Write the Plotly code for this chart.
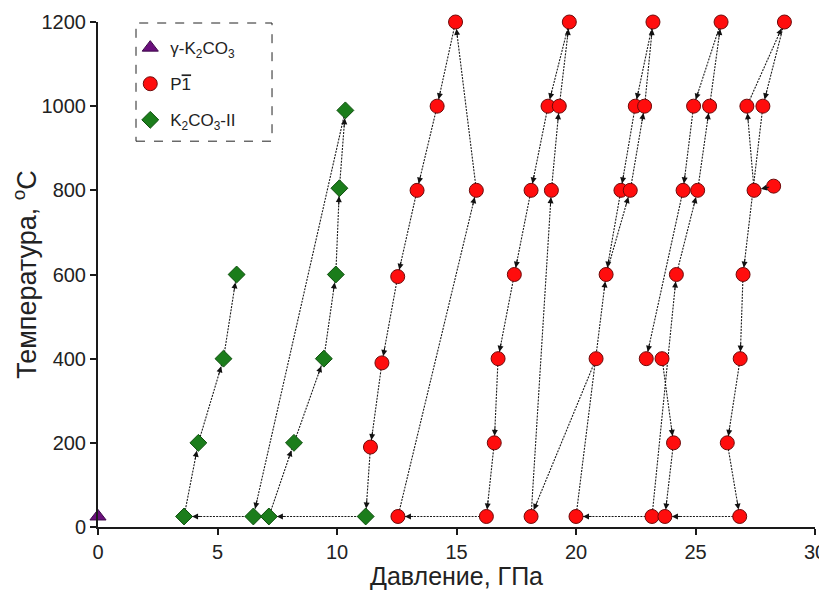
import math
import plotly.graph_objects as go

# ---------------- data ----------------
# gamma-K2CO3
gamma_P = [0.0]
gamma_T = [25]

# K2CO3-II  (green diamonds)
green_P = [3.6, 4.2, 5.25, 5.8, 6.5, 7.15, 8.2, 9.45, 9.95, 10.1, 10.35, 11.2]
green_T = [25, 200, 400, 600, 25, 25, 200, 400, 600, 805, 990, 25]

# P-1 phase (red circles)
red_P = [12.55, 16.25, 18.12, 20.0, 23.18, 23.72, 26.85,
         11.4, 16.58, 24.08, 26.33,
         11.88, 16.74, 20.84, 22.94, 23.6, 26.87,
         12.54, 17.42, 21.26, 24.2, 26.99,
         13.35, 15.83, 18.12, 18.97, 21.88, 22.27, 24.48, 25.09, 27.45, 28.27,
         14.19, 18.83, 19.3, 22.48, 22.87, 24.92, 25.59, 27.15, 27.82,
         14.96, 19.72, 23.22, 26.07, 28.72]
red_T = [25, 25, 25, 25, 25, 25, 25,
         190, 200, 200, 200,
         390, 400, 400, 400, 400, 400,
         595, 600, 600, 600, 600,
         800, 800, 800, 800, 800, 800, 800, 800, 800, 810,
         1000, 1000, 1000, 1000, 1000, 1000, 1000, 1000, 1000,
         1200, 1200, 1200, 1200, 1200]

# arrows: (from, to) ; 'g' = green index, 'r' = red index
arrows = [
    ("r7", "g11"), ("g11", "g5"), ("g5", "g6"), ("g6", "g7"), ("g7", "g8"),
    ("g8", "g9"), ("g9", "g10"), ("g10", "g4"), ("g4", "g0"), ("g0", "g1"),
    ("g1", "g2"), ("g2", "g3"),
    ("r11", "r7"), ("r17", "r11"), ("r22", "r17"), ("r32", "r22"), ("r41", "r32"),
    ("r23", "r41"), ("r0", "r23"), ("r1", "r0"), ("r8", "r1"), ("r12", "r8"),
    ("r18", "r12"), ("r24", "r18"), ("r33", "r24"), ("r42", "r33"), ("r34", "r42"),
    ("r25", "r34"), ("r2", "r25"), ("r13", "r2"), ("r3", "r19"), ("r26", "r19"),
    ("r19", "r27"), ("r27", "r36"), ("r36", "r43"), ("r43", "r35"), ("r35", "r26"),
    ("r4", "r3"), ("r4", "r20"), ("r20", "r29"), ("r29", "r38"), ("r38", "r44"),
    ("r44", "r37"), ("r37", "r28"), ("r28", "r14"), ("r15", "r9"), ("r9", "r5"),
    ("r6", "r5"), ("r10", "r6"), ("r16", "r10"), ("r21", "r16"), ("r40", "r21"),
    ("r45", "r40"), ("r39", "r45"), ("r30", "r39"), ("r31", "r30"),
]

x_ticks = [0, 5, 10, 15, 20, 25, 30]
y_ticks = [0, 200, 400, 600, 800, 1000, 1200]
x_title = "Давление, ГПа"
y_title = "Температура, <sup>o</sup>C"

# ---------------- layout constants ----------------
# the page body has an 8px default margin, so the figure is drawn 8px in
W, H = 819, 582
ML, MR, MT, MB = 90, 12, 14, 63
XR = [0, 30]
YR = [0, 1200]
PW = W - ML - MR
PH = H - MT - MB
sx = PW / (XR[1] - XR[0])
sy = PH / (YR[1] - YR[0])


def pt(key):
    idx = int(key[1:])
    if key[0] == "g":
        return green_P[idx], green_T[idx]
    return red_P[idx], red_T[idx]


line_x, line_y = [], []
annotations = []
for a, b in arrows:
    x0, y0 = pt(a)
    x1, y1 = pt(b)
    line_x += [x0, x1, None]
    line_y += [y0, y1, None]
    vx = (x1 - x0) * sx
    vy = (y1 - y0) * sy
    d = math.hypot(vx, vy)
    ux, uy = vx / d, vy / d
    so = 8 if b[0] == "g" else 7
    L = so + 10
    annotations.append(dict(
        x=x1, y=y1, xref="x", yref="y", text="", showarrow=True,
        ax=-ux * L, ay=uy * L, arrowhead=2, arrowsize=1.2, arrowwidth=1,
        arrowcolor="#111111", standoff=so,
    ))

# x-axis title as a paper annotation, a little below the tick labels
annotations.append(dict(
    text=x_title, x=0.5, y=-49 / PH, xref="paper", yref="paper",
    xanchor="center", yanchor="middle", showarrow=False,
    font=dict(size=25, color="#222222"),
))

fig = go.Figure()
fig.add_trace(go.Scatter(
    x=line_x, y=line_y, mode="lines", showlegend=False, hoverinfo="skip",
    line=dict(color="#1a1a1a", width=1.1, dash="2px,1.2px"), cliponaxis=False,
))
fig.add_trace(go.Scatter(
    x=gamma_P, y=gamma_T, mode="markers", name="γ-K<sub>2</sub>CO<sub>3</sub>",
    legendgroup="a",
    marker=dict(symbol="triangle-up", size=14, color="#6a0f7c",
                line=dict(color="#3d0848", width=1)),
    cliponaxis=False,
))
fig.add_trace(go.Scatter(
    x=red_P, y=red_T, mode="markers",
    name='P<span style="text-decoration:overline">1</span>', legendgroup="b",
    marker=dict(symbol="circle", size=14, color="#ff0d0d",
                line=dict(color="#6e0a0a", width=1)),
    cliponaxis=False,
))
fig.add_trace(go.Scatter(
    x=green_P, y=green_T, mode="markers", name="K<sub>2</sub>CO<sub>3</sub>-II",
    legendgroup="c",
    marker=dict(symbol="diamond", size=13, color="#1b7d1b",
                line=dict(color="#0e4f0e", width=1)),
    cliponaxis=False,
))

axis_common = dict(
    showline=True, linewidth=2, linecolor="#1a1a1a", ticks="outside",
    ticklen=6, tickwidth=2, tickcolor="#1a1a1a", showgrid=False,
    zeroline=False, tickfont=dict(size=20, color="#222222"), automargin=False,
)

fig.update_layout(
    width=W, height=H,
    margin=dict(l=ML, r=MR, t=MT, b=MB, pad=0),
    paper_bgcolor="white", plot_bgcolor="white",
    font=dict(family="Liberation Sans, Arial, sans-serif", color="#222222"),
    xaxis=dict(range=XR, tickvals=x_ticks, **axis_common),
    yaxis=dict(range=YR, tickvals=y_ticks,
               title=dict(text=y_title, font=dict(size=27)),
               **axis_common),
    legend=dict(x=0.045, y=0.984, xanchor="left", yanchor="top",
                bgcolor="rgba(0,0,0,0)", borderwidth=0,
                font=dict(size=17, color="#222222"), tracegroupgap=11),
    annotations=annotations,
    shapes=[dict(type="rect", xref="paper", yref="paper",
                 x0=0.053, x1=0.2427, y0=0.764, y1=0.998,
                 line=dict(color="#222222", width=1, dash="dash"))],
    showlegend=True,
)

fig.write_html("out.html")
